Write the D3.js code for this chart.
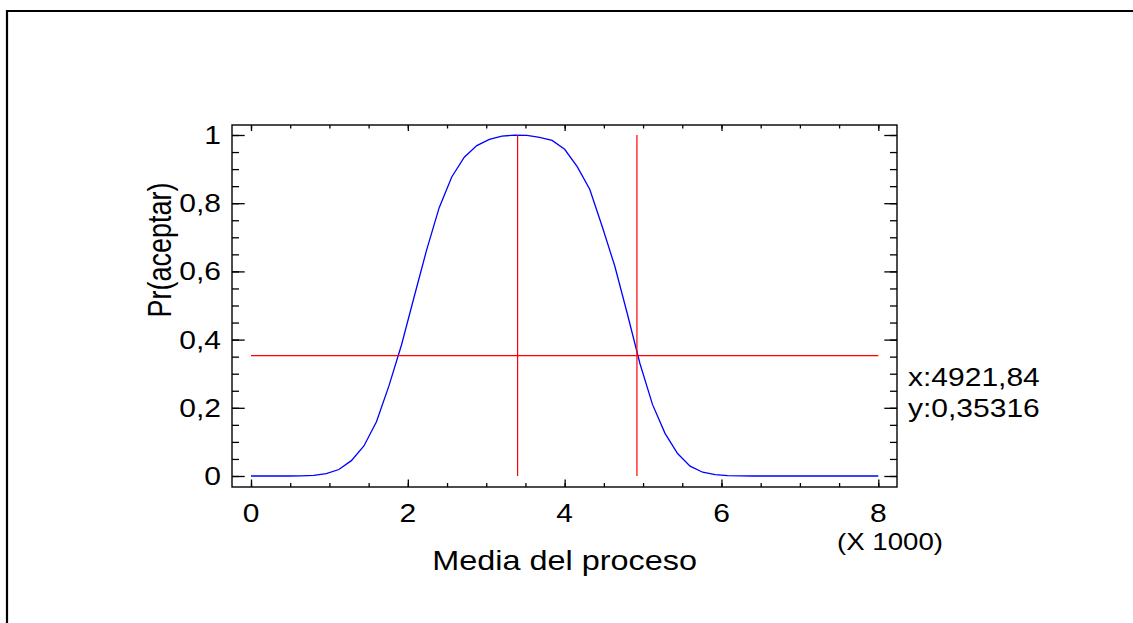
<!DOCTYPE html>
<html>
<head>
<meta charset="utf-8">
<script src="https://cdn.jsdelivr.net/npm/d3@7"></script>
<style>
  html, body { margin: 0; padding: 0; background: #fff; overflow: hidden; }
  svg { display: block; }
  text { font-family: "Liberation Sans", Arial, sans-serif; fill: #000; }
</style>
</head>
<body>
<svg id="chart" width="1133" height="623"></svg>
<script>
// process mean (x 1000 in the axis) and probability of acceptance
const media = [0, 160, 320, 480, 640, 800, 960, 1120, 1280, 1440, 1600, 1760, 1920, 2080, 2240,
  2400, 2560, 2720, 2880, 3040, 3200, 3360, 3520, 3680, 3840, 4000, 4160, 4320, 4480, 4640,
  4800, 4960, 5120, 5280, 5440, 5600, 5760, 5920, 6080, 6240, 6400, 6560, 6720, 6880, 7040,
  7200, 7360, 7520, 7680, 7840, 8000];
const prAceptar = [0, 0, 0, 0, 0.0005, 0.002, 0.007, 0.019, 0.045, 0.088, 0.159, 0.265, 0.385, 0.525, 0.663,
  0.787, 0.877, 0.935, 0.969, 0.987, 0.997, 0.9995, 0.999, 0.993, 0.984, 0.958, 0.907, 0.841, 0.731, 0.615,
  0.475, 0.33, 0.21, 0.125, 0.066, 0.029, 0.011, 0.004, 0.001, 0.0002, 0, 0, 0, 0, 0,
  0, 0, 0, 0, 0, 0];

const xTicks = [0, 2000, 4000, 6000, 8000];
const xTickLabels = ["0", "2", "4", "6", "8"];
const xMinor = d3.range(0, 8001, 500);
const yTicks = [0, 0.2, 0.4, 0.6, 0.8, 1];
const yTickLabels = ["0", "0,2", "0,4", "0,6", "0,8", "1"];
const yMinor = d3.range(0, 1.0001, 0.05);

const cursorX = [3400, 4921.84];
const cursorY = 0.35316;
const readout = ["x:4921,84", "y:0,35316"];
const xTitle = "Media del proceso";
const yTitle = "Pr(aceptar)";
const xScaleNote = "(X 1000)";

const svg = d3.select("#chart");
const frame = { left: 232, top: 125, right: 897, bottom: 487 };
const x = d3.scaleLinear().domain([0, 8000]).range([251, 878.3]);
const y = d3.scaleLinear().domain([0, 1]).range([476, 135]);
const fs = 25, sx = 1.2;

// outer border: only the left and top edges are inside the window
svg.append("path").attr("d", "M7,623V11H1133")
  .attr("fill", "none").attr("stroke", "#000").attr("stroke-width", 2.2);

// axes ticks (inward)
function ticks(axis, tx, ty) {
  const g = svg.append("g").attr("transform", `translate(${tx},${ty})`).call(axis);
  g.select(".domain").remove();
  g.selectAll("line").attr("stroke", "#000").attr("stroke-width", 1.3);
  g.selectAll("text").remove();
}
ticks(d3.axisBottom(x).tickValues(xMinor).tickSize(-4), 0, frame.bottom);
ticks(d3.axisBottom(x).tickValues(xTicks).tickSize(-7.5), 0, frame.bottom);
ticks(d3.axisTop(x).tickValues(xMinor).tickSize(-3.5), 0, frame.top);
ticks(d3.axisTop(x).tickValues(xTicks).tickSize(-6), 0, frame.top);
ticks(d3.axisLeft(y).tickValues(yMinor).tickSize(-7), frame.left, 0);
ticks(d3.axisLeft(y).tickValues(yTicks).tickSize(-12.7), frame.left, 0);
ticks(d3.axisRight(y).tickValues(yMinor).tickSize(-7), frame.right, 0);
ticks(d3.axisRight(y).tickValues(yTicks).tickSize(-12.7), frame.right, 0);

// plot frame
svg.append("rect").attr("x", frame.left).attr("y", frame.top)
  .attr("width", frame.right - frame.left).attr("height", frame.bottom - frame.top)
  .attr("fill", "none").attr("stroke", "#000").attr("stroke-width", 1.4);

// curve
const pts = media.map((m, i) => [m, prAceptar[i]]);
svg.append("path").datum(pts)
  .attr("fill", "none").attr("stroke", "#0000ff").attr("stroke-width", 1.3)
  .attr("d", d3.line().x(d => x(d[0])).y(d => y(d[1])));

// cursor lines
svg.append("line").attr("x1", x(0)).attr("x2", x(8000)).attr("y1", y(cursorY)).attr("y2", y(cursorY))
  .attr("stroke", "#ff0000").attr("stroke-width", 1.2);
svg.selectAll(".vcur").data(cursorX).enter().append("line")
  .attr("x1", d => x(d)).attr("x2", d => x(d)).attr("y1", y(0)).attr("y2", y(1))
  .attr("stroke", "#ff0000").attr("stroke-width", 1.2);

// text is a little wider than normal in the original, so stretch it horizontally
function label(txt, px, py, anchor, size, rot) {
  const t = svg.append("text").text(txt).attr("font-size", size || fs).attr("text-anchor", anchor || "start");
  t.attr("transform", `translate(${px},${py}) scale(${sx},1)` + (rot ? " rotate(-90)" : ""));
  return t;
}

yTicks.forEach((v, i) => label(yTickLabels[i], 221, y(v) + 9, "end"));
xTicks.forEach((v, i) => label(xTickLabels[i], x(v), 522, "middle"));
label(xScaleNote, 890, 550, "middle", 23);
label(xTitle, x(4000), 570, "middle", 27);
label(yTitle, 171, 250, "middle", 27, true);
label(readout[0], 908, 386, "start");
label(readout[1], 908, 417, "start");
</script>
</body>
</html>
